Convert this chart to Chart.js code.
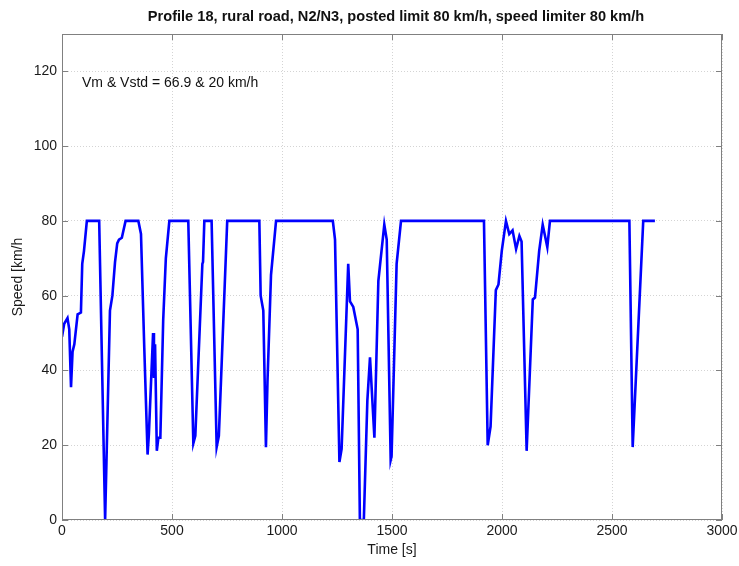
<!DOCTYPE html>
<html>
<head>
  <meta charset="UTF-8">
  <title>Profile 18</title>
  <script src="https://cdn.jsdelivr.net/npm/chart.js"></script>
  <style>
    body { margin: 0; background: #fff; }
    #wrap { width: 739px; height: 566px; }
  </style>
</head>
<body>
  <div id="wrap"><canvas id="grafico"></canvas></div>
  <script>
    // time [s] and speed [km/h]
    const tempos = [0, 10, 25, 33, 41, 48, 56, 71, 86, 92, 100, 113, 169, 196, 218, 229, 241, 251, 259, 272, 289,
      347, 359, 374, 389, 395, 414, 418, 423, 431, 438, 447, 460, 472, 488,
      574, 597, 606, 638, 641, 647, 680, 703, 713, 751,
      897, 903, 915, 927, 934, 950, 973,
      1231, 1241, 1261, 1271, 1301, 1309, 1324, 1344, 1354, 1372, 1388, 1400, 1420, 1438, 1465, 1476, 1494, 1498, 1521, 1541,
      1918, 1935, 1948, 1972, 1984, 1999, 2018, 2033, 2048, 2064, 2079, 2089, 2112, 2140, 2150, 2169, 2185, 2206, 2218,
      2579, 2594, 2642, 2695];
    const velocidades = [49, 52.5, 54, 51, 35.5, 45, 47, 55, 55.5, 68.5, 72, 80, 80, 0, 56, 60, 69, 74, 75, 75.5, 80,
      80, 76.5, 46, 17.5, 23, 50, 38, 47, 18.5, 22, 22, 53.5, 70, 80,
      80, 20.5, 22.5, 68.5, 69, 80, 80, 19.5, 22.5, 80,
      80, 60, 56, 19.5, 37, 65.5, 80,
      80, 75, 15.5, 19, 68.5, 58.5, 57, 51, 0, 0, 32, 43.5, 22, 64, 79, 75, 16, 17, 68.5, 80,
      80, 20, 25, 61.5, 63, 72, 80, 76.5, 77.5, 72.5, 76, 74.5, 18.5, 59, 59.5, 72, 79, 73, 80,
      80, 19.5, 80, 80];
    const ticksX = [0, 500, 1000, 1500, 2000, 2500, 3000];
    const ticksY = [0, 20, 40, 60, 80, 100, 120];

    const titulo = 'Profile 18, rural road, N2/N3, posted limit 80 km/h, speed limiter 80 km/h';
    const nota = 'Vm & Vstd = 66.9 & 20 km/h';
    const fonte = '"Liberation Sans", Arial, sans-serif';

    const pontos = tempos.map((t, i) => ({ x: t, y: velocidades[i] }));

    // frame with inward ticks (matlab style), title over the plot area, text note
    const moldura = {
      id: 'moldura',
      afterDraw(chart) {
        const { ctx, chartArea: a, scales } = chart;
        ctx.save();
        ctx.strokeStyle = '#808080';
        ctx.lineWidth = 1;
        ctx.strokeRect(a.left + 0.5, a.top + 0.5, a.right - a.left - 1, a.bottom - a.top - 1);
        ctx.beginPath();
        ticksX.forEach(v => {
          const x = Math.round(scales.x.getPixelForValue(v)) + 0.5;
          ctx.moveTo(x, a.bottom); ctx.lineTo(x, a.bottom - 6);
          ctx.moveTo(x, a.top); ctx.lineTo(x, a.top + 6);
        });
        ticksY.forEach(v => {
          const y = Math.round(scales.y.getPixelForValue(v)) + 0.5;
          ctx.moveTo(a.left, y); ctx.lineTo(a.left + 6, y);
          ctx.moveTo(a.right, y); ctx.lineTo(a.right - 6, y);
        });
        ctx.stroke();

        ctx.fillStyle = '#111';
        ctx.textBaseline = 'middle';
        ctx.font = 'bold 14.6px ' + fonte;
        ctx.textAlign = 'center';
        ctx.fillText(titulo, (a.left + a.right) / 2 + 4, 17);

        ctx.font = '14px ' + fonte;
        ctx.textAlign = 'left';
        ctx.fillText(nota, a.left + 20, a.top + 49);
        ctx.restore();
      }
    };

    new Chart(document.getElementById('grafico'), {
      type: 'scatter',
      data: {
        datasets: [{
          data: pontos,
          showLine: true,
          borderColor: '#0000ff',
          borderWidth: 2.6,
          pointRadius: 0,
          tension: 0
        }]
      },
      options: {
        responsive: true,
        maintainAspectRatio: false,
        animation: false,
        layout: { padding: { top: 34, right: 17, bottom: 0, left: 0 } },
        plugins: {
          legend: { display: false },
          tooltip: { enabled: false },
          title: { display: false }
        },
        scales: {
          x: {
            type: 'linear',
            min: 0,
            max: 3000,
            afterFit: s => { s.height = 46; s.paddingLeft = 0; s.paddingRight = 0; },
            afterBuildTicks: s => { s.ticks = ticksX.map(v => ({ value: v })); },
            ticks: {
              color: '#1a1a1a', font: { family: fonte, size: 14 }, padding: 3, maxRotation: 0,
              callback: v => String(v)
            },
            grid: { color: '#d4d4d4', drawTicks: false },
            border: { display: false, dash: [1, 2] },
            title: { display: true, text: 'Time [s]', color: '#1a1a1a', font: { family: fonte, size: 14 }, padding: { top: 0, bottom: 7 } }
          },
          y: {
            min: 0,
            max: 130,
            afterFit: s => { s.width = 62; s.paddingTop = 0; s.paddingBottom = 0; },
            afterBuildTicks: s => { s.ticks = ticksY.map(v => ({ value: v })); },
            ticks: { color: '#1a1a1a', font: { family: fonte, size: 14 }, padding: 5, callback: v => String(v) },
            grid: { color: '#d4d4d4', drawTicks: false },
            border: { display: false, dash: [1, 2] },
            title: { display: true, text: 'Speed [km/h', color: '#1a1a1a', font: { family: fonte, size: 14 }, padding: { top: 9.6, bottom: 0 } }
          }
        }
      },
      plugins: [moldura]
    });
  </script>
</body>
</html>
